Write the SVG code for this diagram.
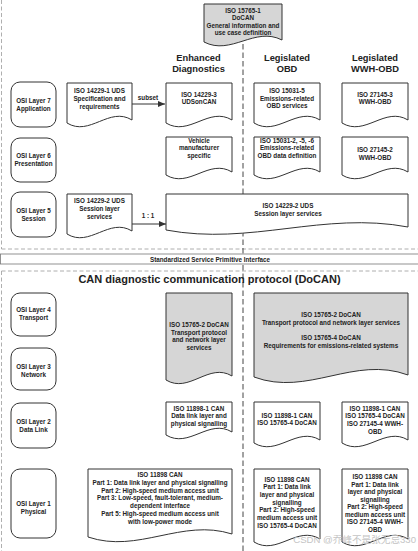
<svg xmlns="http://www.w3.org/2000/svg" width="418" height="551" viewBox="0 0 418 551">
<style>
.t{font-family:"Liberation Sans",Arial,sans-serif;font-weight:bold;font-size:6.3px;fill:#222;text-anchor:middle}
.h{font-family:"Liberation Sans",Arial,sans-serif;font-weight:bold;font-size:9.3px;fill:#222;text-anchor:middle}
.ttl{font-family:"Liberation Sans",Arial,sans-serif;font-weight:bold;font-size:11px;fill:#222;text-anchor:middle}
.doc{fill:#fff;stroke:#333;stroke-width:1}
.gdoc{fill:#d6d6d6;stroke:#333;stroke-width:1}
.osi{fill:#fff;stroke:#333;stroke-width:1}
.frame{fill:none;stroke:#9a9a9a;stroke-width:0.8;stroke-dasharray:4 2.5}
.mid{fill:none;stroke:#444;stroke-width:1;stroke-dasharray:5.5 3}
.conn{stroke:#333;stroke-width:1;fill:none}
.wm{font-family:"Liberation Sans","Noto Sans CJK SC",sans-serif;font-size:9.6px;fill:#c4c4c4;text-anchor:end}
</style>
<defs>
<marker id="arr" markerWidth="8" markerHeight="6" refX="7" refY="3" orient="auto" markerUnits="userSpaceOnUse">
<path d="M0,0 L7,3 L0,6 Z" fill="#333"/>
</marker>
</defs>
<rect x="0" y="0" width="418" height="551" fill="#fff"/>
<g id="frame">
<path class="frame" d="M1.5 0 V249 M1.5 249 H418 M1.5 271 V551 M1.5 271 H418"/>
<path class="mid" d="M243 44 V551"/>
</g>
<g id="spi">
<rect x="0.5" y="254" width="420" height="10" fill="#fff" stroke="#777" stroke-width="0.8"/>
<text class="t" x="210" y="262">Standardized Service Primitive Interface</text>
</g>
<g id="headers">
<text class="h" x="198.5" y="60.5">Enhanced</text>
<text class="h" x="198.5" y="72">Diagnostics</text>
<text class="h" x="287" y="60.5">Legislated</text>
<text class="h" x="287" y="72">OBD</text>
<text class="h" x="375" y="60.5">Legislated</text>
<text class="h" x="375" y="72">WWH-OBD</text>
<text class="ttl" x="209.5" y="283">CAN diagnostic communication protocol (DoCAN)</text>
</g>
<g id="doc-15765-1">
<path class="gdoc" d="M204 4 H282 V40 C254.7 26, 231.3 56, 204 42 Z"/>
<text class="t" x="243" y="12.5">ISO 15765-1</text>
<text class="t" x="243" y="20">DoCAN</text>
<text class="t" x="243" y="27.5">General information and</text>
<text class="t" x="243" y="35">use case definition</text>
</g>
<g id="osi7">
<rect class="osi" x="11" y="82" width="45" height="45" rx="9"/>
<text class="t" x="33.5" y="102.5">OSI Layer 7</text>
<text class="t" x="33.5" y="110.5">Application</text>
</g>
<g id="osi6">
<rect class="osi" x="11" y="138" width="45" height="44" rx="9"/>
<text class="t" x="33.5" y="158">OSI Layer 6</text>
<text class="t" x="33.5" y="165.7">Presentation</text>
</g>
<g id="osi5">
<rect class="osi" x="11" y="192" width="45" height="45" rx="9"/>
<text class="t" x="33.5" y="213.3">OSI Layer 5</text>
<text class="t" x="33.5" y="221">Session</text>
</g>
<g id="osi4">
<rect class="osi" x="11" y="293" width="45" height="43" rx="9"/>
<text class="t" x="33.5" y="312.3">OSI Layer 4</text>
<text class="t" x="33.5" y="320">Transport</text>
</g>
<g id="osi3">
<rect class="osi" x="11" y="348" width="45" height="42" rx="9"/>
<text class="t" x="33.5" y="369">OSI Layer 3</text>
<text class="t" x="33.5" y="376.7">Network</text>
</g>
<g id="osi2">
<rect class="osi" x="11" y="403" width="45" height="45" rx="9"/>
<text class="t" x="33.5" y="424">OSI Layer 2</text>
<text class="t" x="33.5" y="431.7">Data Link</text>
</g>
<g id="osi1">
<rect class="osi" x="11" y="469" width="45" height="69" rx="9"/>
<text class="t" x="33.5" y="506.3">OSI Layer 1</text>
<text class="t" x="33.5" y="514">Physical</text>
</g>
<g id="doc-14229-1">
<path class="doc" d="M67 83 H132 V120 C109.25 106, 89.75 137, 67 123 Z"/>
<text class="t" x="99.5" y="93">ISO 14229-1 UDS</text>
<text class="t" x="99.5" y="101">Specification and</text>
<text class="t" x="99.5" y="109">requirements</text>
</g>
<g id="doc-14229-3">
<path class="doc" d="M166 83 H232 V120 C208.9 106, 189.1 137, 166 123 Z"/>
<text class="t" x="199" y="96.5">ISO 14229-3</text>
<text class="t" x="199" y="104.2">UDSonCAN</text>
</g>
<g id="doc-15031-5">
<path class="doc" d="M254 83 H320 V120 C296.9 106, 277.1 137, 254 123 Z"/>
<text class="t" x="287" y="93">ISO 15031-5</text>
<text class="t" x="287" y="100.7">Emissions-related</text>
<text class="t" x="287" y="108.4">OBD services</text>
</g>
<g id="doc-27145-3">
<path class="doc" d="M342 83 H408 V120 C384.9 106, 365.1 137, 342 123 Z"/>
<text class="t" x="375" y="96.5">ISO 27145-3</text>
<text class="t" x="375" y="104.2">WWH-OBD</text>
</g>
<g id="doc-vm">
<path class="doc" d="M166 137 H232 V172 C208.9 158, 189.1 189, 166 175 Z"/>
<text class="t" x="199" y="142.5">Vehicle</text>
<text class="t" x="199" y="150.2">manufacturer</text>
<text class="t" x="199" y="157.9">specific</text>
</g>
<g id="doc-15031-2">
<path class="doc" d="M254 137 H320 V172 C296.9 158, 277.1 189, 254 175 Z"/>
<text class="t" x="287" y="142.5">ISO 15031-2, -5, -6</text>
<text class="t" x="287" y="150.2">Emissions-related</text>
<text class="t" x="287" y="157.9">OBD data definition</text>
</g>
<g id="doc-27145-2">
<path class="doc" d="M342 137 H408 V172 C384.9 158, 365.1 189, 342 175 Z"/>
<text class="t" x="375" y="152.3">ISO 27145-2</text>
<text class="t" x="375" y="160">WWH-OBD</text>
</g>
<g id="doc-14229-2">
<path class="doc" d="M67 194 H132 V231 C109.25 217, 89.75 248, 67 234 Z"/>
<text class="t" x="99.5" y="203.3">ISO 14229-2 UDS</text>
<text class="t" x="99.5" y="211.2">Session layer</text>
<text class="t" x="99.5" y="219">services</text>
</g>
<g id="doc-14229-2-wide">
<path class="doc" d="M166 194 H408 V227 C323.3 211, 250.7 246, 166 230 Z"/>
<text class="t" x="288" y="208">ISO 14229-2 UDS</text>
<text class="t" x="288" y="216">Session layer services</text>
</g>
<g id="doc-15765-2-enh">
<path class="gdoc" d="M166 293 H232 V376 C208.9 362, 189.1 394, 166 380 Z"/>
<text class="t" x="199" y="327">ISO 15765-2 DoCAN</text>
<text class="t" x="199" y="334.7">Transport protocol</text>
<text class="t" x="199" y="342.4">and network layer</text>
<text class="t" x="199" y="350.1">services</text>
</g>
<g id="doc-15765-2-leg">
<path class="gdoc" d="M254 293 H408 V375 C354.1 355, 307.9 397, 254 377 Z"/>
<text class="t" x="331" y="316.5">ISO 15765-2 DoCAN</text>
<text class="t" x="331" y="324.5">Transport protocol and network layer services</text>
<text class="t" x="331" y="339.5">ISO 15765-4 DoCAN</text>
<text class="t" x="331" y="347.5">Requirements for emissions-related systems</text>
</g>
<g id="doc-11898-1-enh">
<path class="doc" d="M166 402 H232 V432 C208.9 418, 189.1 449, 166 435 Z"/>
<text class="t" x="199" y="410.5">ISO 11898-1 CAN</text>
<text class="t" x="199" y="418.3">Data link layer and</text>
<text class="t" x="199" y="426.1">physical signalling</text>
</g>
<g id="doc-11898-1-obd">
<path class="doc" d="M254 402 H320 V440 C296.9 426, 277.1 457, 254 443 Z"/>
<text class="t" x="287" y="417.5">ISO 11898-1 CAN</text>
<text class="t" x="287" y="425.3">ISO 15765-4 DoCAN</text>
</g>
<g id="doc-11898-1-wwh">
<path class="doc" d="M342 402 H408 V440 C384.9 426, 365.1 457, 342 443 Z"/>
<text class="t" x="375" y="410.5">ISO 11898-1 CAN</text>
<text class="t" x="375" y="418.2">ISO 15765-4 DoCAN</text>
<text class="t" x="375" y="425.9">ISO 27145-4 WWH-</text>
<text class="t" x="375" y="433.6">OBD</text>
</g>
<g id="doc-11898-enh">
<path class="doc" d="M88 469 H232 V534 C181.6 518, 138.4 554, 88 537 Z"/>
<text class="t" x="160" y="477">ISO 11898 CAN</text>
<text class="t" x="160" y="484.8">Part 1: Data link layer and physical signalling</text>
<text class="t" x="160" y="492.6">Part 2: High-speed medium access unit</text>
<text class="t" x="160" y="500.4">Part 3: Low-speed, fault-tolerant, medium-</text>
<text class="t" x="160" y="508.2">dependent interface</text>
<text class="t" x="160" y="516">Part 5: High-speed medium access unit</text>
<text class="t" x="160" y="523.8">with low-power mode</text>
</g>
<g id="doc-11898-obd">
<path class="doc" d="M254 469 H320 V539 C296.9 525, 277.1 556, 254 542 Z"/>
<text class="t" x="287" y="481.5">ISO 11898 CAN</text>
<text class="t" x="287" y="489.2">Part 1: Data link</text>
<text class="t" x="287" y="496.9">layer and physical</text>
<text class="t" x="287" y="504.6">signalling</text>
<text class="t" x="287" y="512.3">Part 2: High-speed</text>
<text class="t" x="287" y="520">medium access unit</text>
<text class="t" x="287" y="527.7">ISO 15765-4 DoCAN</text>
</g>
<g id="doc-11898-wwh">
<path class="doc" d="M342 469 H408 V539 C384.9 525, 365.1 556, 342 542 Z"/>
<text class="t" x="375" y="479">ISO 11898 CAN</text>
<text class="t" x="375" y="486.5">Part 1: Data link</text>
<text class="t" x="375" y="494">layer and physical</text>
<text class="t" x="375" y="501.5">signalling</text>
<text class="t" x="375" y="509">Part 2: High-speed</text>
<text class="t" x="375" y="516.5">medium access unit</text>
<text class="t" x="375" y="524">ISO 27145-4 WWH-</text>
<text class="t" x="375" y="531.5">OBD</text>
</g>
<g id="connectors">
<line class="conn" x1="132" y1="104" x2="165" y2="104" marker-end="url(#arr)"/>
<text class="t" x="148" y="100">subset</text>
<line class="conn" x1="132" y1="224" x2="166" y2="224" marker-end="url(#arr)"/>
<text class="t" x="148" y="218">1 : 1</text>
</g>
<text class="wm" x="416" y="543">CSDN @乔峰不是张无忌330</text>
</svg>
